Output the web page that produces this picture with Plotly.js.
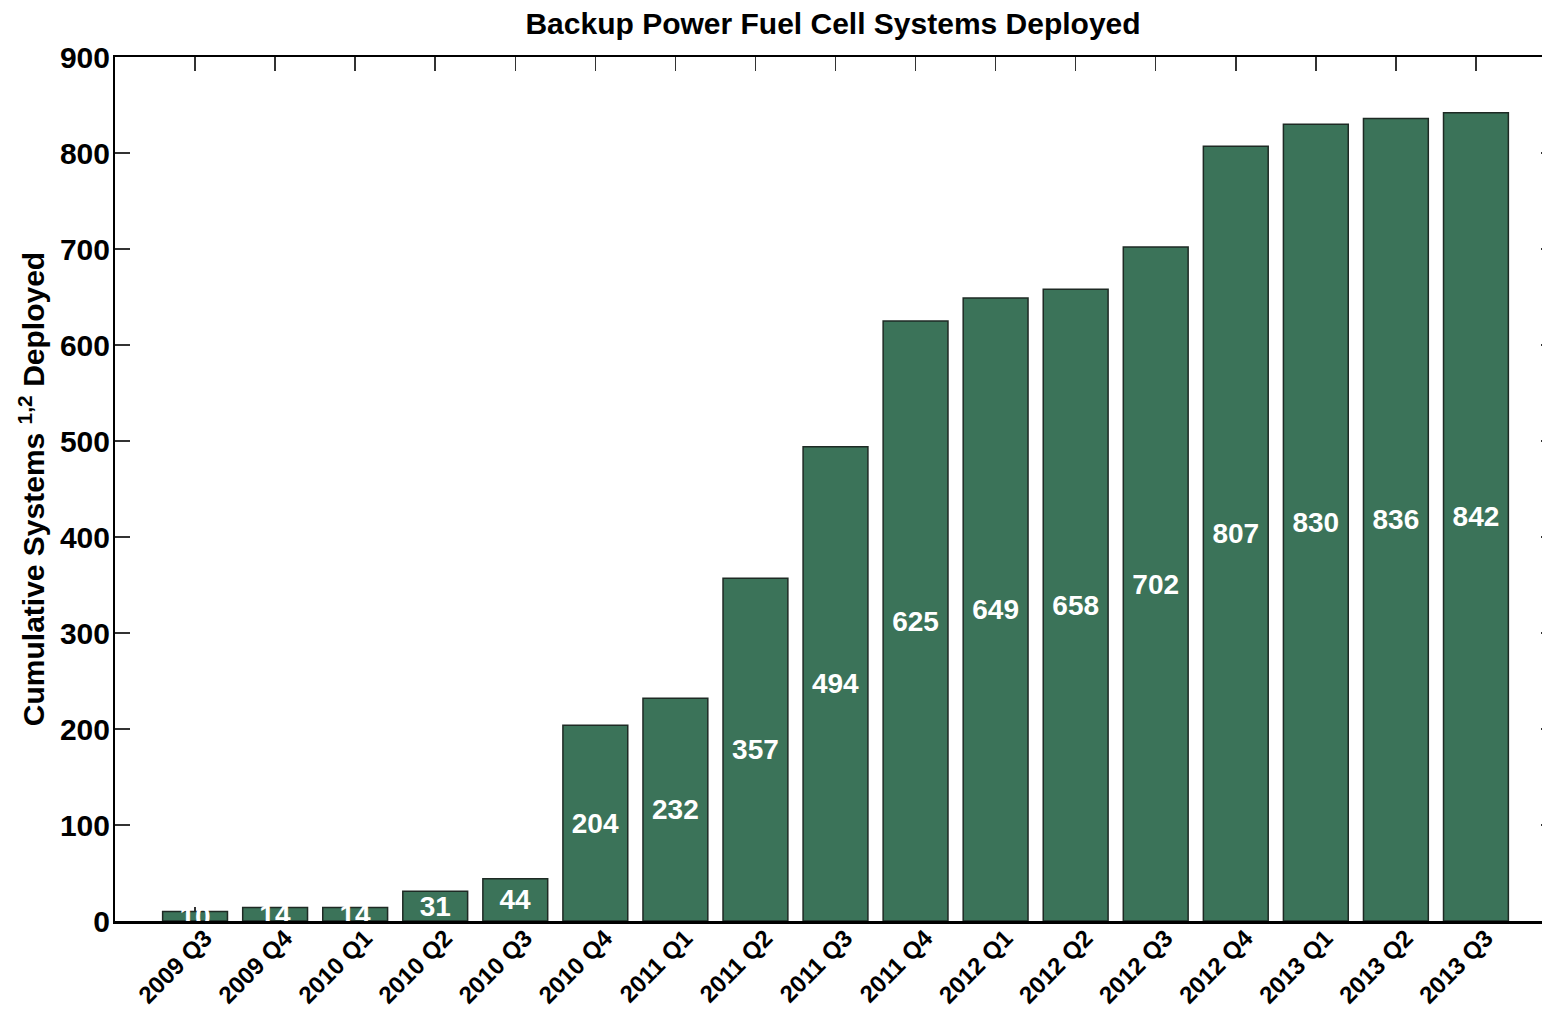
<!DOCTYPE html>
<html>
<head>
<meta charset="utf-8">
<script src="https://cdn.plot.ly/plotly-3.0.1.min.js"></script>
<style>
html,body{margin:0;padding:0;overflow:hidden;background:#fff;}
#chart{width:1560px;height:1019px;}
</style>
</head>
<body>
<div id="chart"></div>
<script>
const quarters = ["2009 Q3","2009 Q4","2010 Q1","2010 Q2","2010 Q3","2010 Q4","2011 Q1","2011 Q2","2011 Q3","2011 Q4","2012 Q1","2012 Q2","2012 Q3","2012 Q4","2013 Q1","2013 Q2","2013 Q3"];
const cumulativeSystems = [10,14,14,31,44,204,232,357,494,625,649,658,702,807,830,836,842];
const yTicks = [0,100,200,300,400,500,600,700,800,900];

const font = "Liberation Sans, Arial, sans-serif";

const trace = {
  type: "bar",
  x: quarters,
  y: cumulativeSystems,
  width: 0.81,
  marker: {color: "#3b7359", line: {color: "#1e2a24", width: 1.5}},
  text: cumulativeSystems.map(String),
  textposition: "inside",
  insidetextanchor: "middle",
  constraintext: "none",
  cliponaxis: true,
  textfont: {family: font, size: 28, color: "#ffffff", weight: "bold"},
  hoverinfo: "x+y"
};

const layout = {
  width: 1560,
  height: 1019,
  margin: {l: 115, r: 4, t: 57, b: 98},
  paper_bgcolor: "#ffffff",
  plot_bgcolor: "#ffffff",
  showlegend: false,
  bargap: 0.19,
  title: {
    text: "<b>Backup Power Fuel Cell Systems Deployed</b>",
    font: {family: font, size: 30, color: "#000"},
    xref: "container", x: 0.534, xanchor: "center",
    yref: "container", y: 0.977, yanchor: "middle"
  },
  xaxis: {
    type: "category",
    range: [-1, 17],
    showline: true, linecolor: "#000", linewidth: 2.5,
    mirror: "ticks",
    ticks: "inside", ticklen: 14, tickwidth: 1.5, tickcolor: "#333",
    tickangle: -45,
    tickfont: {family: font, size: 24, color: "#000", weight: "bold"},
    ticklabelshift: 10,
    ticklabelstandoff: -9,
    showgrid: false, zeroline: false,
    layer: "below traces",
    fixedrange: true
  },
  yaxis: {
    range: [0, 900],
    tickvals: yTicks,
    ticktext: yTicks.map(String),
    showline: true, linecolor: "#000", linewidth: 2,
    mirror: "ticks",
    ticks: "inside", ticklen: 15, tickwidth: 1.5, tickcolor: "#333",
    tickfont: {family: font, size: 30, color: "#000", weight: "bold"},
    ticklabelstandoff: -3,
    showgrid: false, zeroline: false,
    title: {
      text: "<b>Cumulative Systems <sup>1,2</sup> Deployed</b>",
      font: {family: font, size: 30, color: "#000"},
      standoff: 6
    },
    fixedrange: true
  }
};

Plotly.newPlot("chart", [trace], layout, {displayModeBar: false, staticPlot: true});
</script>
</body>
</html>
